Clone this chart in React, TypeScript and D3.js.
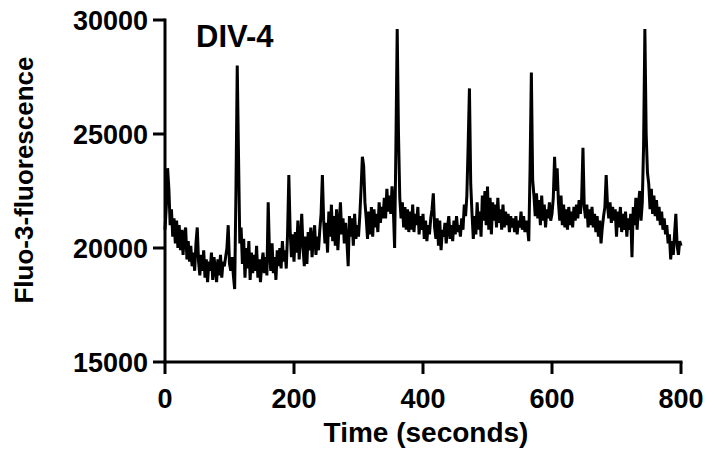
import React from "react";
import * as d3 from "d3";

const timeStep = 2; // seconds between samples
const fluorescence: number[] = [
  20800, 21800, 23500, 22600, 21000, 21700, 20500, 21300, 20200, 21200,
  20000, 21000, 19900, 20800, 19700, 20600, 20900, 19500, 20300, 19400,
  20100, 19200, 19800, 19000, 20200, 20900, 19400, 18800, 19700, 19000,
  19900, 18700, 19500, 18500, 19400, 19000, 19800, 18600, 19600, 19100,
  18500, 19500, 18800, 19700, 18700, 19400, 19200, 19600, 20000, 21000,
  19300, 19000, 19600, 18800, 18200, 22500, 28000, 24000, 20200, 20900,
  19300, 20400, 18700, 20000, 19100, 20300, 18600, 19800, 18900, 19700,
  19000, 20100, 18700, 19500, 18500, 19300, 19800, 18900, 19600, 18800,
  22000, 19800, 19000, 20200, 18900, 19600, 18600, 19900, 19200, 20000,
  19100, 20300, 19400, 19900, 19100, 20600, 23200, 20800, 19600, 20600,
  19400, 20700, 19800, 21200, 19500, 20400, 21500, 20000, 19200, 20500,
  19300, 20700, 19900, 20900, 19600, 20400, 21000, 19700, 20500, 19900,
  20800, 21500, 23200, 21200, 20200, 21100, 19800, 21600, 20500, 21900,
  20300, 21400, 20100, 21700, 19900, 21000, 22000, 20600, 21300, 20200,
  21100, 20300, 19200, 21400, 20500, 21300, 20100, 21500, 20400, 21000,
  20500, 21400, 22600, 24000, 23600, 22000, 21300, 20400, 21600, 20600,
  21800, 20500, 21700, 20900, 21500, 20700, 22000, 21100, 21800, 21300,
  22200, 21300, 22600, 21600, 22300, 21500, 22700, 21700, 20000, 24500,
  29600, 25000, 22200, 21300, 22000, 20900, 21800, 20800, 21700, 20700,
  21600, 20800, 21900, 20700, 21500, 21000, 21800, 20600, 21400, 20800,
  21500, 20400, 21200, 20300, 21000, 20600, 21300, 21700, 22400, 20900,
  20400, 21300, 20100, 21200, 19900, 20800, 20500, 21100, 20200, 20900,
  21400, 20400, 21000, 20300, 21200, 20600, 21400, 20700, 21000, 20500,
  21300, 20800, 21900, 21400, 22300, 24500, 27000, 22800, 21500, 20400,
  21400, 20600, 22000, 20800, 21600, 20500, 22300, 21200, 22500, 21000,
  22700, 20800, 22200, 20600, 22000, 21200, 21900, 20900, 22200, 21100,
  21700, 20800, 21900, 20900, 21600, 21000, 21500, 20700, 21400, 20900,
  21300, 20700, 21400, 20600, 21200, 20900, 21600, 20800, 21400, 20700,
  21200, 20900, 20300, 23500, 27700, 23000, 22300, 21400, 22400, 21300,
  22100, 21000, 22300, 21200, 21900, 20900, 21700, 21300, 22000, 21200,
  21500, 22200, 24000, 22500, 23500, 22000, 21200, 22300, 21000, 21900,
  20900, 21700, 20800, 21800, 21000, 21600, 20900, 21800, 21200, 21900,
  21300, 22100, 21500, 22200, 24400, 21800, 21300, 21900, 20900, 21700,
  21000, 21800, 20900, 21500, 20700, 21400, 20500, 21200, 20200, 20900,
  21400, 21800, 23200, 21900, 21300, 22000, 21100, 21800, 21200, 21700,
  20500, 21600, 20900, 21800, 20700, 21500, 20800, 21600, 20500, 21300,
  20800, 21500, 19600, 21800, 21000, 22200, 20800, 21900, 22500, 21200,
  22000, 24500, 29600, 25000, 23300, 22800, 21700, 22600, 21500, 22300,
  21400, 22100, 21200, 21800, 21000, 21600, 20800, 21300, 20600, 21000,
  20200, 20600, 19500, 20300, 19700, 20600, 21500, 20100, 19700, 20300,
  20100,
];
const xTicks = [0, 200, 400, 600, 800];
const yTicks = [15000, 20000, 25000, 30000];
const title = "DIV-4";
const xLabel = "Time (seconds)";
const yLabel = "Fluo-3-fluorescence";

const W = 708;
const H = 452;
const FONT = "'Liberation Sans', Arial, Helvetica, sans-serif";

export default function App() {
  const x = d3.scaleLinear().domain([0, 800]).range([165, 681]);
  const y = d3.scaleLinear().domain([15000, 30000]).range([362, 20]);
  const pts = fluorescence.map((v, i) => [i * timeStep, v] as [number, number]);
  const line = d3
    .line<[number, number]>()
    .x((d) => x(d[0]))
    .y((d) => y(d[1]));
  const path = line(pts) || "";
  const x0 = x(0);
  const y0 = y(15000);
  return (
    <svg
      width={W}
      height={H}
      viewBox={`0 0 ${W} ${H}`}
      style={{ position: "absolute", left: 0, top: 0, background: "#fff" }}
    >
      <rect width={W} height={H} fill="#fff" />
      <path
        d={path}
        fill="none"
        stroke="#000"
        strokeWidth={3}
        strokeLinejoin="miter"
        strokeMiterlimit={2}
      />
      <line x1={x0} y1={y(30000) - 1.5} x2={x0} y2={y0 + 1.5} stroke="#000" strokeWidth={3} />
      <line x1={x0 - 1.5} y1={y0} x2={x(800) + 1.5} y2={y0} stroke="#000" strokeWidth={3} />
      {yTicks.map((t) => (
        <g key={"y" + t}>
          <line x1={x0 - 12} x2={x0} y1={y(t)} y2={y(t)} stroke="#000" strokeWidth={3} />
          <text
            x={148}
            y={y(t) + 9.5}
            textAnchor="end"
            fontFamily={FONT}
            fontWeight="bold"
            fontSize={27}
            fill="#000"
          >
            {t}
          </text>
        </g>
      ))}
      {xTicks.map((t) => (
        <g key={"x" + t}>
          <line x1={x(t)} x2={x(t)} y1={y0} y2={y0 + 12} stroke="#000" strokeWidth={3} />
          <text
            x={x(t)}
            y={408}
            textAnchor="middle"
            fontFamily={FONT}
            fontWeight="bold"
            fontSize={27}
            fill="#000"
          >
            {t}
          </text>
        </g>
      ))}
      <text
        x={426}
        y={442}
        textAnchor="middle"
        fontFamily={FONT}
        fontWeight="bold"
        fontSize={28}
        fill="#000"
      >
        {xLabel}
      </text>
      <text
        transform={`translate(33,180) rotate(-90)`}
        textAnchor="middle"
        fontFamily={FONT}
        fontWeight="bold"
        fontSize={26}
        fill="#000"
      >
        {yLabel}
      </text>
      <text
        x={196}
        y={47}
        fontFamily={FONT}
        fontWeight="bold"
        fontSize={31}
        fill="#000"
      >
        {title}
      </text>
    </svg>
  );
}
